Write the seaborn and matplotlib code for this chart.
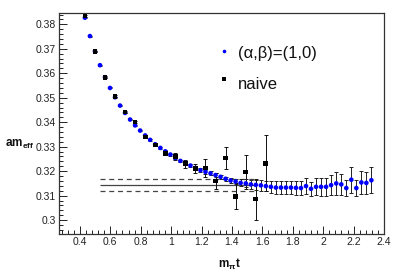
import numpy as np
import pandas as pd
import matplotlib
matplotlib.use("Agg")
import matplotlib.pyplot as plt
import seaborn as sns
from matplotlib.ticker import MultipleLocator, FuncFormatter

# ---------------- data ----------------
x_ab = [0.433, 0.466, 0.499, 0.532, 0.565, 0.598, 0.631, 0.664, 0.697, 0.730,
        0.763, 0.796, 0.829, 0.862, 0.895, 0.929, 0.962, 0.995, 1.028, 1.061,
        1.094, 1.127, 1.160, 1.193, 1.226, 1.259, 1.292, 1.325, 1.358, 1.391,
        1.424, 1.457, 1.491, 1.524, 1.557, 1.590, 1.623, 1.656, 1.689, 1.722,
        1.755, 1.788, 1.821, 1.854, 1.887, 1.920, 1.953, 1.986, 2.019, 2.052,
        2.086, 2.119, 2.152, 2.185, 2.218, 2.251, 2.284, 2.317]
y_ab = [0.3827, 0.3752, 0.3690, 0.3633, 0.3584, 0.3540, 0.3502, 0.3468, 0.3438, 0.3411,
        0.3387, 0.3366, 0.3346, 0.3328, 0.3310, 0.3295, 0.3281, 0.3268, 0.3254, 0.3242,
        0.3233, 0.3223, 0.3213, 0.3204, 0.3197, 0.3191, 0.3184, 0.3177, 0.3169, 0.3162,
        0.3158, 0.3152, 0.3150, 0.3146, 0.3144, 0.3142, 0.3139, 0.3136, 0.3133, 0.3133,
        0.3133, 0.3133, 0.3132, 0.3131, 0.3139, 0.3128, 0.3136, 0.3136, 0.3136, 0.3143,
        0.3150, 0.3146, 0.3131, 0.3165, 0.3131, 0.3154, 0.3152, 0.3163]
e_ab = [0.0002, 0.0002, 0.0002, 0.0002, 0.0002, 0.0002, 0.0002, 0.0002, 0.0002, 0.0002,
        0.0002, 0.0002, 0.0003, 0.0003, 0.0003, 0.0004, 0.0004, 0.0004, 0.0005, 0.0005,
        0.0005, 0.0006, 0.0006, 0.0007, 0.0007, 0.0008, 0.0008, 0.0009, 0.0009, 0.0010,
        0.0012, 0.0014, 0.0016, 0.0018, 0.0019, 0.0021, 0.0022, 0.0024, 0.0025, 0.0026,
        0.0027, 0.0028, 0.0029, 0.0030, 0.0032, 0.0029, 0.0035, 0.0036, 0.0037, 0.0042,
        0.0046, 0.0043, 0.0031, 0.0053, 0.0031, 0.0046, 0.0045, 0.0053]

x_naive = [0.433, 0.499, 0.565, 0.631, 0.697, 0.763, 0.829, 0.895, 0.962, 1.028,
           1.094, 1.160, 1.226, 1.292, 1.358, 1.424, 1.491, 1.557, 1.623]
y_naive = [0.3834, 0.3689, 0.3584, 0.3506, 0.3442, 0.3401, 0.3340, 0.3307, 0.3273, 0.3261,
           0.3230, 0.3211, 0.3213, 0.3160, 0.3254, 0.3097, 0.3197, 0.3086, 0.3233]
e_naive = [0.0003, 0.0003, 0.0003, 0.0004, 0.0004, 0.0005, 0.0005, 0.0006, 0.0008, 0.0014,
           0.0016, 0.0018, 0.0035, 0.0033, 0.0045, 0.0053, 0.0071, 0.0084, 0.0113]

fit_range = [0.532, 1.557]
fit_value = 0.3143
fit_band = [0.3117, 0.3166]

labels = ["(α,β)=(1,0)", "naive"]
x_ticks = [0.4, 0.6, 0.8, 1.0, 1.2, 1.4, 1.6, 1.8, 2.0, 2.2, 2.4]
y_ticks = [0.30, 0.31, 0.32, 0.33, 0.34, 0.35, 0.36, 0.37, 0.38]

df_ab = pd.DataFrame({"x": x_ab, "y": y_ab, "e": e_ab})
df_nv = pd.DataFrame({"x": x_naive, "y": y_naive, "e": e_naive})

# ---------------- style ----------------
sns.set_style("ticks")
plt.rcParams["font.family"] = ["Liberation Sans", "DejaVu Sans"]
plt.rcParams["mathtext.fontset"] = "custom"
plt.rcParams["mathtext.rm"] = "Liberation Sans"
plt.rcParams["mathtext.it"] = "Liberation Sans:italic"
plt.rcParams["mathtext.bf"] = "Liberation Sans:bold"

fig = plt.figure(figsize=(4.07, 2.78), dpi=100)
ax = fig.add_axes([0.144, 0.158, 0.7995, 0.795])

# fit lines
ax.hlines(fit_value, fit_range[0], fit_range[1], color="#444444", lw=0.9, zorder=1)
ax.hlines(fit_band, fit_range[0], fit_range[1], color="#444444", lw=0.9,
          linestyles=[(0, (4, 3))], zorder=1)

# error bars
ax.errorbar(df_ab["x"], df_ab["y"], yerr=df_ab["e"], fmt="none", ecolor="#222222",
            elinewidth=0.7, capsize=1.2, capthick=0.7, zorder=2)
ax.errorbar(df_nv["x"], df_nv["y"], yerr=df_nv["e"], fmt="none", ecolor="#111111",
            elinewidth=0.7, capsize=1.2, capthick=0.7, zorder=2)

sns.scatterplot(data=df_ab, x="x", y="y", color="#0000ff", marker="o", s=11,
                edgecolor="none", linewidth=0, ax=ax, zorder=3, legend=False)
sns.scatterplot(data=df_nv, x="x", y="y", color="black", marker="s", s=12,
                edgecolor="none", linewidth=0, ax=ax, zorder=4, legend=False)

ax.set_xlim(0.26, 2.40)
ax.set_ylim(0.2943, 0.3846)

ax.set_xticks(x_ticks)
ax.set_yticks(y_ticks)
ax.xaxis.set_minor_locator(MultipleLocator(0.04))
ax.yaxis.set_minor_locator(MultipleLocator(0.002))
fmt = FuncFormatter(lambda v, p: "%g" % round(v, 4))
ax.xaxis.set_major_formatter(fmt)
ax.yaxis.set_major_formatter(fmt)

ax.tick_params(which="both", direction="in", top=False, right=False,
               colors="#222222", labelsize=7.5, width=0.7)
ax.tick_params(which="major", length=6)
ax.tick_params(which="minor", length=3)
ax.tick_params(axis="x", pad=2)
ax.tick_params(axis="y", pad=2)
for s in ax.spines.values():
    s.set_visible(True)
    s.set_color("#333333")
    s.set_linewidth(0.9)

ax.set_xlabel("")
ax.set_ylabel("")

# axis titles (ROOT-style placement)
fig.text(229 / 407, 1 - 264 / 278, r"$\mathbf{m_{\pi}t}$", ha="center", va="center",
         fontsize=8.5, color="#111111")
fig.text(5 / 407, 1 - 144 / 278, r"$\mathbf{am_{eff}}$", ha="left", va="center",
         fontsize=8.5, color="#111111")

# legend
ax.plot([0.508], [0.827], "o", color="#0000ff", ms=2.6, mew=0, transform=ax.transAxes)
ax.plot([0.508], [0.701], "s", color="black", ms=2.6, mew=0, transform=ax.transAxes)
ax.text(0.551, 0.796, labels[0], transform=ax.transAxes, va="baseline", ha="left",
        fontsize=12, color="#111111")
ax.text(0.551, 0.657, labels[1], transform=ax.transAxes, va="baseline", ha="left",
        fontsize=12, color="#111111")

fig.savefig("out.png", dpi=100)
